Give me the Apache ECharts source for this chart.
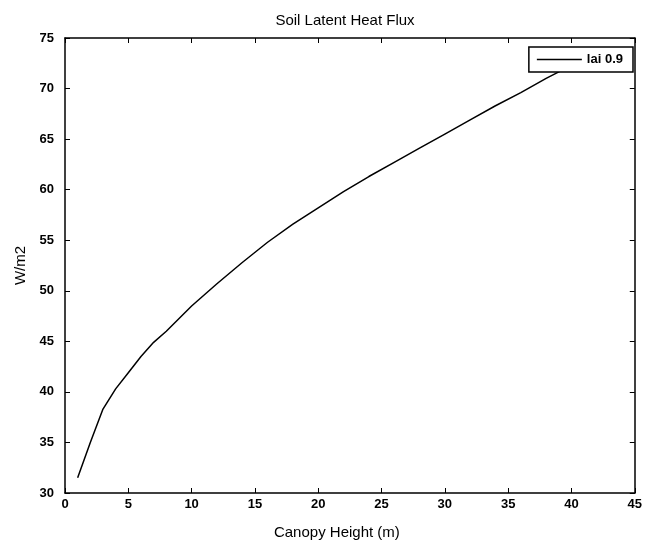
<!DOCTYPE html>
<html>
<head>
<meta charset="utf-8">
<script src="https://cdn.jsdelivr.net/npm/echarts@6/dist/echarts.min.js"></script>
<style>
  html, body { margin: 0; padding: 0; background: #fff; }
  #chart { width: 645px; height: 548px; }
</style>
</head>
<body>
<div id="chart"></div>
<script>
// Canopy height (m) and soil latent heat flux (W/m2) for LAI 0.9
const canopyHeight = [1, 2, 3, 4, 5, 6, 7, 8, 10, 12, 14, 16, 18, 20, 22, 24, 26, 28, 30, 32, 34, 36, 38, 40];
const soilLatentFlux = [31.5, 35.0, 38.3, 40.3, 41.9, 43.5, 44.9, 46.0, 48.5, 50.7, 52.8, 54.8, 56.6, 58.2, 59.8, 61.3, 62.7, 64.1, 65.5, 66.9, 68.3, 69.6, 71.0, 72.3];
const seriesName = 'lai 0.9';

const FONT = 'Liberation Sans, Arial, sans-serif';
const chart = echarts.init(document.getElementById('chart'));

const tickStyle = { show: true, inside: true, length: 5, lineStyle: { color: '#000', width: 1 } };
const lineAxis = { show: true, onZero: false, lineStyle: { color: '#000', width: 1.5 } };

chart.setOption({
  animation: false,
  backgroundColor: '#fff',
  title: {
    text: 'Soil Latent Heat Flux',
    left: 340, top: 8, textAlign: 'center',
    textStyle: { fontFamily: FONT, fontSize: 15, fontWeight: 'normal', color: '#000' }
  },
  legend: {
    data: [seriesName],
    right: 12, top: 47,
    orient: 'vertical',
    backgroundColor: '#fff',
    borderColor: '#000', borderWidth: 1.5, borderRadius: 0,
    padding: [6, 10, 6, 8],
    itemWidth: 45, itemHeight: 1.5, itemGap: 4,
    icon: 'rect',
    textStyle: { fontFamily: FONT, fontSize: 13, fontWeight: 'bold', color: '#000' }
  },
  grid: { left: 65, right: 7, top: 38, bottom: 55 },
  xAxis: [
    {
      type: 'value', min: 0, max: 45, interval: 5, position: 'bottom',
      name: 'Canopy Height (m)', nameLocation: 'middle', nameGap: 32,
      nameTextStyle: { fontFamily: FONT, fontSize: 15, color: '#000', padding: [0, 26, 0, 0] },
      axisLine: lineAxis, axisTick: tickStyle, splitLine: { show: false },
      axisLabel: { fontFamily: FONT, fontSize: 13, fontWeight: 'bold', color: '#000', margin: 5 }
    },
    {
      type: 'value', min: 0, max: 45, interval: 5, position: 'top',
      axisLine: lineAxis, axisTick: tickStyle, splitLine: { show: false },
      axisLabel: { show: false }
    }
  ],
  yAxis: [
    {
      type: 'value', min: 30, max: 75, interval: 5, position: 'left',
      name: 'W/m2', nameLocation: 'middle', nameGap: 30, nameRotate: 90,
      nameTextStyle: { fontFamily: FONT, fontSize: 15, color: '#000' },
      axisLine: lineAxis, axisTick: tickStyle, splitLine: { show: false },
      axisLabel: { fontFamily: FONT, fontSize: 13, fontWeight: 'bold', color: '#000', margin: 11 }
    },
    {
      type: 'value', min: 30, max: 75, interval: 5, position: 'right',
      axisLine: lineAxis, axisTick: tickStyle, splitLine: { show: false },
      axisLabel: { show: false }
    }
  ],
  series: [
    {
      name: seriesName,
      type: 'line',
      data: canopyHeight.map((h, i) => [h, soilLatentFlux[i]]),
      showSymbol: false,
      symbol: 'none',
      lineStyle: { color: '#000', width: 1.5 },
      itemStyle: { color: '#000' },
      z: 2
    }
  ]
});
</script>
</body>
</html>
